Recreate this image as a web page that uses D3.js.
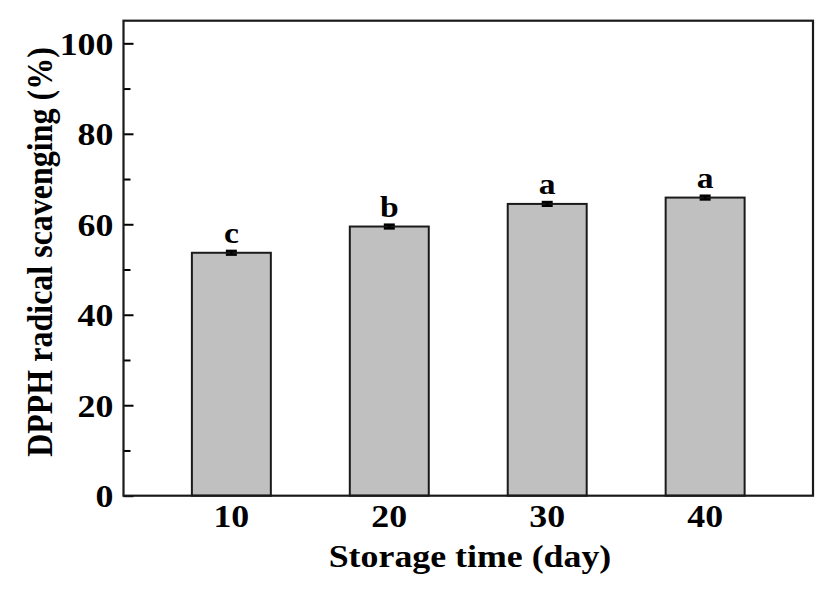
<!DOCTYPE html>
<html>
<head>
<meta charset="utf-8">
<script src="https://cdn.jsdelivr.net/npm/d3@7"></script>
<style>
  body { margin: 0; background: #fff; }
  text { font-family: "Liberation Serif", "Times New Roman", serif; font-weight: bold; fill: #000; }
</style>
</head>
<body>
<svg id="chart" width="827" height="595"></svg>
<script>
// storage days and DPPH scavenging (%)
var days = ["10", "20", "30", "40"];
var scavenging = [53.7, 59.5, 64.5, 65.9];
var errors = [0.4, 0.4, 0.4, 0.4];
var letters = ["c", "b", "a", "a"];
var yTicks = [0, 20, 40, 60, 80, 100];
var yMinorTicks = [10, 30, 50, 70, 90];

var plotLeft = 123.5, plotRight = 813, plotTop = 20.7, plotBottom = 495.7;
var stretch = 1.12; // glyphs in the figure look a bit wide

var svg = d3.select('#chart');

var x = d3.scaleBand()
    .domain(days)
    .range([plotLeft, plotRight])
    .paddingInner(0.5)
    .paddingOuter(0.433);

var y = d3.scaleLinear()
    .domain([0, 105])
    .range([plotBottom, plotTop]);

// bars
svg.selectAll('.bar').data(days).enter().append('rect')
    .attr('class', 'bar')
    .attr('x', function(d) { return x(d); })
    .attr('y', function(d, i) { return y(scavenging[i]); })
    .attr('width', x.bandwidth())
    .attr('height', function(d, i) { return y(0) - y(scavenging[i]); })
    .style('fill', '#c0c0c0')
    .style('stroke', '#1a1a1a')
    .style('stroke-width', '2px');

// error bars
var err = svg.selectAll('.err').data(days).enter().append('g').attr('class', 'err')
    .style('stroke', '#000').style('stroke-width', '2.6px');
err.append('line')
    .attr('x1', function(d) { return x(d) + x.bandwidth() / 2; })
    .attr('x2', function(d) { return x(d) + x.bandwidth() / 2; })
    .attr('y1', function(d, i) { return y(scavenging[i] - errors[i]); })
    .attr('y2', function(d, i) { return y(scavenging[i] + errors[i]); });
[-1, 1].forEach(function(s) {
    err.append('line')
        .attr('x1', function(d) { return x(d) + x.bandwidth() / 2 - 5.5; })
        .attr('x2', function(d) { return x(d) + x.bandwidth() / 2 + 5.5; })
        .attr('y1', function(d, i) { return y(scavenging[i] + s * errors[i]); })
        .attr('y2', function(d, i) { return y(scavenging[i] + s * errors[i]); });
});

// significance letters
svg.selectAll('.letter').data(days).enter().append('text')
    .attr('class', 'letter')
    .attr('text-anchor', 'middle')
    .attr('transform', function(d, i) {
        return 'translate(' + (x(d) + x.bandwidth() / 2) + ',' + (y(scavenging[i] + errors[i]) - 8) + ') scale(' + stretch + ',1)';
    })
    .style('font-size', '30px')
    .text(function(d, i) { return letters[i]; });

// y axis, ticks pointing inward
var yAxis = svg.append('g')
    .attr('transform', 'translate(' + plotLeft + ',0)')
    .call(d3.axisLeft(y).tickValues(yTicks).tickSize(-10).tickPadding(9));
yAxis.selectAll('text')
    .style('font-size', '32px')
    .attr('dy', '0.34em')
    .attr('transform', 'scale(' + stretch + ',1)');
svg.append('g')
    .attr('transform', 'translate(' + plotLeft + ',0)')
    .call(d3.axisLeft(y).tickValues(yMinorTicks).tickSize(-7).tickFormat(''));

// x axis, labels only
var xAxis = svg.append('g')
    .attr('transform', 'translate(0,' + plotBottom + ')')
    .call(d3.axisBottom(x).tickSize(0).tickPadding(9));
xAxis.selectAll('text')
    .style('font-size', '32px')
    .attr('transform', 'scale(' + stretch + ',1)');

svg.selectAll('.domain').remove();
svg.selectAll('.tick line').style('stroke', '#000').style('stroke-width', '2px');

// frame
svg.append('rect')
    .attr('x', plotLeft).attr('y', plotTop)
    .attr('width', plotRight - plotLeft).attr('height', plotBottom - plotTop)
    .style('fill', 'none')
    .style('stroke', '#1a1a1a')
    .style('stroke-width', '2.2px');

// axis titles
svg.append('text')
    .attr('text-anchor', 'middle')
    .attr('transform', 'translate(' + 470 + ',567) scale(' + stretch + ',1)')
    .style('font-size', '32px')
    .text('Storage time (day)');

svg.append('text')
    .attr('text-anchor', 'middle')
    .attr('transform', 'translate(52,252) rotate(-90) scale(1,' + stretch + ')')
    .style('font-size', '32px')
    .text('DPPH radical scavenging (%)');
</script>
</body>
</html>
